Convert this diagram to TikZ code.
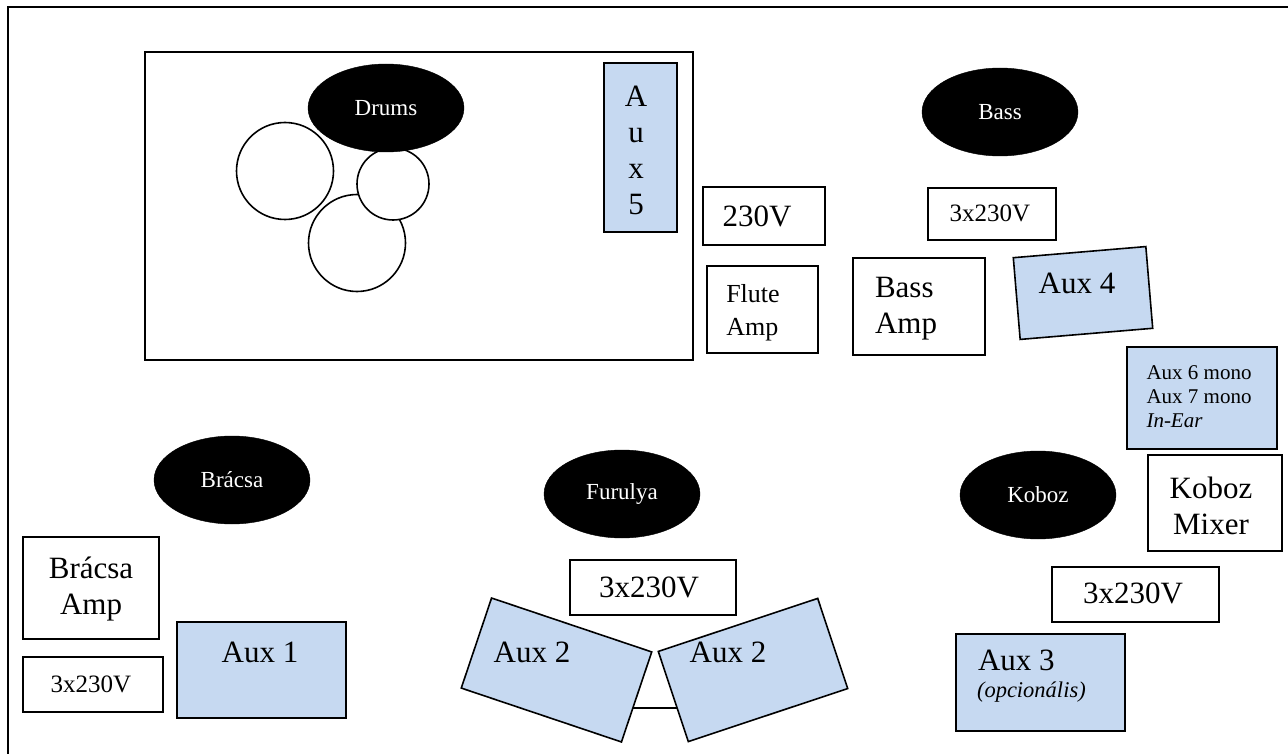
\documentclass[tikz,border=0pt]{standalone}
\usepackage{fontspec}
\setmainfont{Liberation Serif}
\usetikzlibrary{shapes.geometric,backgrounds}
\definecolor{auxblue}{HTML}{C6D9F1}
\newcommand\fbig{\fontsize{31}{36}\selectfont}
\newcommand\fmed{\fontsize{25}{33}\selectfont}
\newcommand\fflute{\fontsize{26}{33}\selectfont}
\newcommand\fsmall{\fontsize{21}{24}\selectfont}
\newcommand\fopt{\fontsize{22.5}{26}\selectfont}
\newcommand\fell{\fontsize{23}{26}\selectfont}
\tikzset{
  box/.style={draw, line width=1.6pt, rectangle, inner sep=0pt, outer sep=0pt},
  auxbox/.style={box, fill=auxblue},
  player/.style={ellipse, fill=black, draw=black, minimum width=156pt, minimum height=88pt, inner sep=0pt, text=white, font=\fell},
  drum/.style={circle, draw, line width=1.6pt, fill=white, inner sep=0pt},
  lbl/.style={inner sep=0pt, outer sep=0pt},
}
\begin{document}
\begin{tikzpicture}[x=1pt, y=-1pt]
\useasboundingbox (0,0) rectangle (1288,754);
\clip (0,0) rectangle (1288,754);
% outer frame
\draw[line width=1.6pt] (8,780) -- (8,7) -- (1300,7);

% drums riser
\node[box, minimum width=548pt, minimum height=308pt] (riser) at (419,206) {};
\node[drum, minimum size=97pt] (tom1) at (285,171) {};
\node[drum, minimum size=97pt] (tom3) at (357,243) {};
\node[drum, minimum size=72pt] (tom2) at (393,184) {};
\node[player] (drums) at (386,108) {Drums};
\node[auxbox, minimum width=73pt, minimum height=169pt] (aux5) at (640.5,147.5) {};
\node[lbl, font=\fbig, align=center] (aux5t) at (636,150) {A\\u\\x\\5};

% middle top
\node[box, minimum width=122pt, minimum height=58pt] (v230) at (764,216) {};
\node[lbl, font=\fbig] (v230t) at (757,216) {230V};
\node[box, minimum width=111pt, minimum height=87pt] (flute) at (762.5,309.5) {};
\node[lbl, font=\fflute, align=left] (flutet) at (753,313) {Flute\\Amp};
\node[box, minimum width=132pt, minimum height=97pt] (bassamp) at (919,306.5) {};
\node[lbl, font=\fbig, align=left] (bassampt) at (906,309) {Bass\\Amp};

% bass area
\node[player] (bass) at (1000,112) {Bass};
\node[box, minimum width=128pt, minimum height=52pt] (bass3) at (992,214) {};
\node[lbl, font=\fmed] (bass3t) at (990,213) {3x230V};
\node[auxbox, minimum width=133pt, minimum height=82pt, rotate=4.8] (aux4) at (1083,293) {};
\node[lbl, font=\fbig] (aux4t) at (1077,283) {Aux 4};
\node[auxbox, minimum width=150pt, minimum height=102pt] (aux67) at (1202,398) {};
\node[lbl, font=\fsmall, align=left] (aux67t) at (1199,397) {Aux 6 mono\\Aux 7 mono\\\textit{In-Ear}};

% Koboz
\node[player] (koboz) at (1038,495) {Koboz};
\node[box, minimum width=134pt, minimum height=96pt] (kmix) at (1215,503) {};
\node[lbl, font=\fbig, align=center] (kmixt) at (1211,506) {Koboz\\Mixer};
\node[box, minimum width=167pt, minimum height=55pt] (koboz3) at (1135.5,594.5) {};
\node[lbl, font=\fbig] (koboz3t) at (1133,593) {3x230V};
\node[auxbox, minimum width=169pt, minimum height=97pt] (aux3) at (1040.5,682.5) {};
\node[lbl, font=\fbig, anchor=west] (aux3t) at (978,660) {Aux 3};
\node[lbl, font=\fopt\itshape, anchor=west] (aux3o) at (977,692) {(opcionális)};

% Furulya
\node[player] (furulya) at (622,494) {Furulya};
\node[box, minimum width=166pt, minimum height=55pt] (fur3) at (653,587.5) {};
\node[lbl, font=\fbig] (fur3t) at (649,587) {3x230V};
\node[auxbox, minimum width=169pt, minimum height=95pt, rotate=-18.6] (aux2l) at (556.5,670) {};
\node[auxbox, minimum width=168pt, minimum height=95pt, rotate=18.4] (aux2r) at (753,670) {};
\node[lbl, font=\fbig] (aux2lt) at (532,652) {Aux 2};
\node[lbl, font=\fbig] (aux2rt) at (728,652) {Aux 2};
\begin{scope}[on background layer]
\draw[line width=1.6pt] ([yshift=-38pt]aux2l.center) -- ([yshift=-38pt]aux2r.center);
\end{scope}

% Bracsa
\node[player] (bracsa) at (232,480) {Brácsa};
\node[box, minimum width=136pt, minimum height=102pt] (bamp) at (91,588) {};
\node[lbl, font=\fbig, align=center] (bampt) at (91,589) {Brácsa\\Amp};
\node[box, minimum width=140pt, minimum height=55pt] (bracsa3) at (93,684.5) {};
\node[lbl, font=\fmed] (bracsa3t) at (91,684) {3x230V};
\node[auxbox, minimum width=169pt, minimum height=96pt] (aux1) at (261.5,670) {};
\node[lbl, font=\fbig] (aux1t) at (260,652) {Aux 1};
\end{tikzpicture}
\end{document}
